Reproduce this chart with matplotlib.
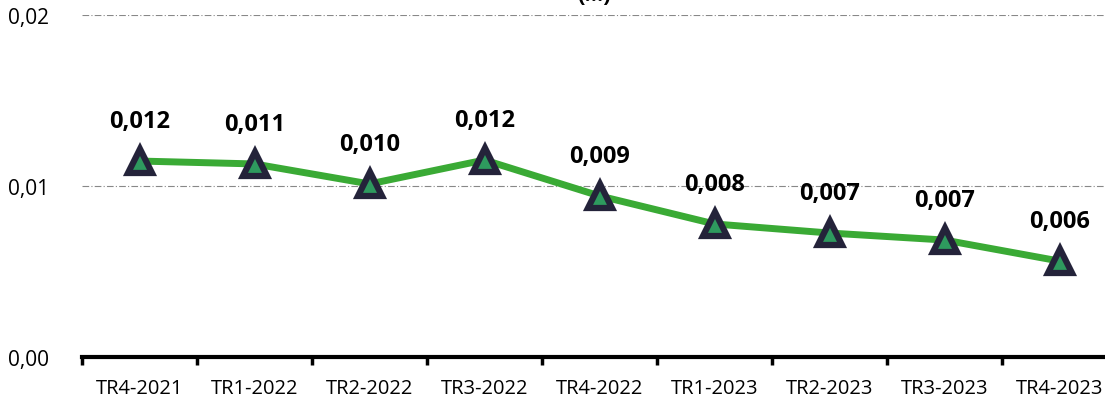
import matplotlib.pyplot as plt

# --- data ---
quarters = ["TR4-2021", "TR1-2022", "TR2-2022", "TR3-2022", "TR4-2022",
            "TR1-2023", "TR2-2023", "TR3-2023", "TR4-2023"]
values = [0.01146, 0.01129, 0.01012, 0.01152, 0.00942,
          0.00778, 0.00725, 0.00684, 0.00561]
labels = ["0,012", "0,011", "0,010", "0,012", "0,009",
          "0,008", "0,007", "0,007", "0,006"]
yticks = [0.0, 0.01, 0.02]
ytick_labels = ["0,00", "0,01", "0,02"]

plt.rcParams['font.family'] = ['Open Sans', 'DejaVu Sans']

fig = plt.figure(figsize=(11.05, 4.02), dpi=100)
# axes deliberately runs past the right edge (cropped like the original)
ax = fig.add_axes([82 / 1105, 44 / 402, 1035 / 1105, 342 / 402])

x = list(range(len(quarters)))
ax.plot(x, values, color="#3aaa35", lw=5, zorder=3, solid_capstyle="round")
ax.plot(x, values, ls="none", marker="^", markersize=17,
        markerfacecolor="#2e9a5e", markeredgecolor="#24233a",
        markeredgewidth=4.5, zorder=4)

for xi, v, lab in zip(x, values, labels):
    ax.annotate(lab, (xi, v), xytext=(0, 20), textcoords="offset points",
                ha="center", va="bottom", fontsize=17, fontweight="bold",
                color="black")

ax.set_xlim(-0.5, len(quarters) - 0.5)
ax.set_ylim(0, 0.02)
ax.set_yticks(yticks)
ax.set_yticklabels(ytick_labels, fontsize=15)
ax.tick_params(axis="y", length=0, pad=24)

# category ticks sit between the labels
ax.set_xticks([i - 0.5 for i in range(len(quarters) + 1)])
ax.set_xticklabels([])
ax.set_xticks(x, minor=True)
ax.set_xticklabels(quarters, minor=True, fontsize=14.5)
ax.tick_params(axis="x", which="major", length=6, width=2.5, color="black")
ax.tick_params(axis="x", which="minor", length=0, pad=15)

ax.grid(axis="y", color="#888888", ls=(0, (6, 2, 1, 2)), lw=0.8)
ax.set_axisbelow(True)
for s in ["top", "right", "left"]:
    ax.spines[s].set_visible(False)
ax.spines["bottom"].set_linewidth(3)
ax.spines["bottom"].set_zorder(5)

# title is mostly cut off at the top in the original
fig.text(0.538, 1.012, "(...)", ha="center", va="center", fontsize=16,
         fontweight="bold")

fig.savefig("out.png", dpi=100)
